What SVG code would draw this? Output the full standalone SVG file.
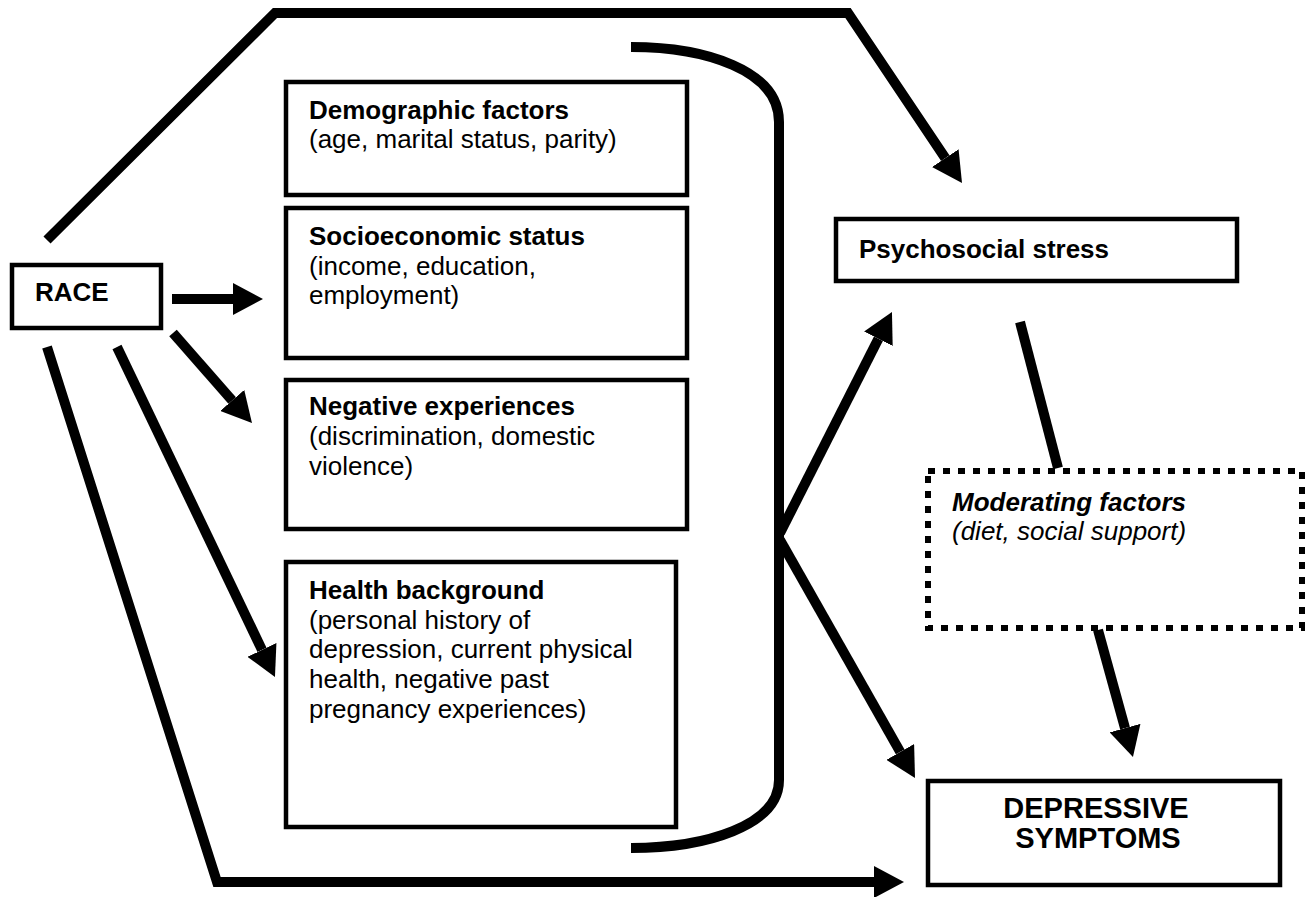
<svg xmlns="http://www.w3.org/2000/svg" width="1316" height="897" viewBox="0 0 1316 897">
<style>
.box{fill:#fff;stroke:#000;stroke-width:4.5}
.dot{fill:none;stroke:#000;stroke-width:6;stroke-dasharray:7 8}
.t{font-family:"Liberation Sans",Arial,sans-serif;font-size:26px;fill:#000}
.b{font-weight:bold}
.i{font-style:italic}
.big{font-size:29px}
.c{fill:none;stroke:#000;stroke-width:10;stroke-linejoin:miter}
</style>
<defs>
<marker id="ah" viewBox="0 -16 30 32" refX="0" refY="0" markerWidth="30" markerHeight="32" markerUnits="userSpaceOnUse" orient="auto">
<path d="M0,-16 L30,0 L0,16 z" fill="#000"/>
</marker>
</defs>
<rect width="1316" height="897" fill="#fff"/>
<g id="connectors">
<path class="c" d="M47,240 L275,13 L848,13 L945.3,158.1" marker-end="url(#ah)"/>
<path class="c" d="M631,47 C705,47 779,70 779,122 L779,780 C779,826 705,848 631,848" stroke-width="9"/>
<path class="c" d="M172,299 L233,299" marker-end="url(#ah)"/>
<path class="c" d="M173,333 L232.2,400.5" marker-end="url(#ah)"/>
<path class="c" d="M117,347 L262,649.9" marker-end="url(#ah)"/>
<path class="c" d="M47,347 L217,882 L874,882" marker-end="url(#ah)"/>
<path class="c" d="M780,533 L878.4,338.8" marker-end="url(#ah)"/>
<path class="c" d="M780,540 L900.2,751.9" marker-end="url(#ah)"/>
<path class="c" d="M1020,322 L1058,468"/>
<path class="c" d="M1098,630 L1125,728.1" marker-end="url(#ah)"/>
</g>
<g id="race">
<rect class="box" x="12" y="265" width="149" height="63" stroke-width="4"/>
<text class="t b" x="35" y="301">RACE</text>
</g>
<g id="demographic">
<rect class="box" x="286" y="82" width="401" height="113"/>
<text class="t b" x="309" y="119">Demographic factors</text>
<text class="t" x="309" y="148">(age, marital status, parity)</text>
</g>
<g id="ses">
<rect class="box" x="286" y="208" width="401" height="150"/>
<text class="t b" x="309" y="245">Socioeconomic status</text>
<text class="t" x="309" y="275">(income, education,</text>
<text class="t" x="309" y="304">employment)</text>
</g>
<g id="negative">
<rect class="box" x="286" y="380" width="401" height="149"/>
<text class="t b" x="309" y="415">Negative experiences</text>
<text class="t" x="309" y="445">(discrimination, domestic</text>
<text class="t" x="309" y="475">violence)</text>
</g>
<g id="health">
<rect class="box" x="286" y="562" width="390" height="265"/>
<text class="t b" x="309" y="599">Health background</text>
<text class="t" x="309" y="629">(personal history of</text>
<text class="t" x="309" y="658">depression, current physical</text>
<text class="t" x="309" y="688">health, negative past</text>
<text class="t" x="309" y="718">pregnancy experiences)</text>
</g>
<g id="psychosocial">
<rect class="box" x="836" y="219" width="401" height="62" stroke-width="5"/>
<text class="t b" x="859" y="258">Psychosocial stress</text>
</g>
<g id="moderating">
<rect class="dot" x="928" y="471" width="374" height="157"/>
<text class="t b i" x="952" y="511">Moderating factors</text>
<text class="t i" x="952" y="540">(diet, social support)</text>
</g>
<g id="depressive">
<rect class="box" x="928" y="781" width="352" height="104" stroke-width="5"/>
<text class="t b big" x="1096" y="818" text-anchor="middle">DEPRESSIVE</text>
<text class="t b big" x="1098" y="848" text-anchor="middle">SYMPTOMS</text>
</g>
</svg>
